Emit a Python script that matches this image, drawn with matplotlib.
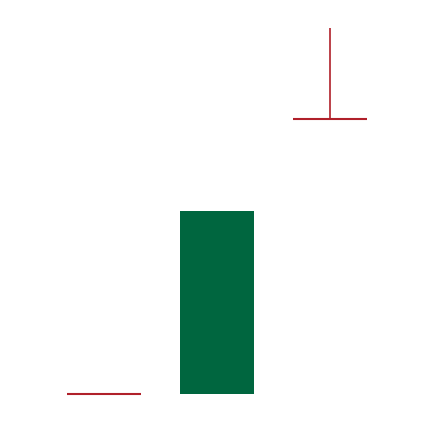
import matplotlib
matplotlib.use("Agg")
import matplotlib.pyplot as plt

categories = ["A", "B", "C"]
open_ = [100, 100, 160]
high = [100, 140, 180]
low = [100, 100, 160]
close = [100, 140, 160]

up_color = "#00663f"
down_color = "#b0202a"

fig = plt.figure(figsize=(4.34, 4.22), dpi=100)
ax = fig.add_axes([0, 0, 1, 1])
width = 0.66
for i, (o, h, l, c) in enumerate(zip(open_, high, low, close)):
    col = up_color if c > o else down_color
    ax.vlines(i, l, h, color=col, linewidth=1.2)
    if c != o:
        ax.bar(i, c - o, bottom=o, width=width, color=col, edgecolor=col, linewidth=0)
    else:
        ax.hlines(o, i - width / 2, i + width / 2, color=col, linewidth=1.5)

ax.set_xlim(-0.92, 2.92)
ax.set_ylim(93.88, 186.1)
ax.axis("off")
fig.savefig("out.png", dpi=100, facecolor="white")
